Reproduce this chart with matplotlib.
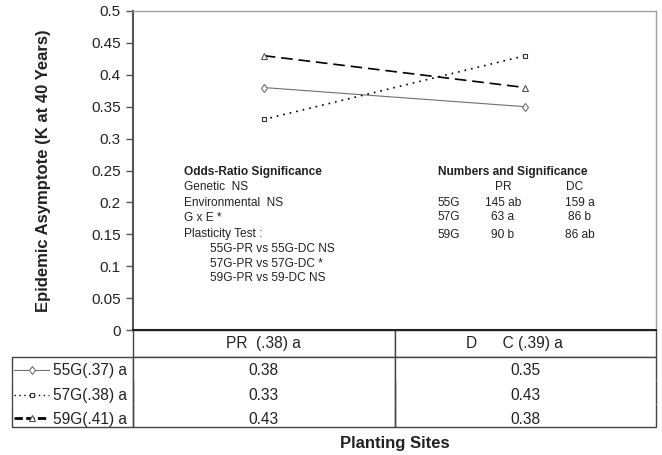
import matplotlib
matplotlib.use("Agg")
import matplotlib.pyplot as plt
from matplotlib.lines import Line2D
import matplotlib.transforms as mtransforms

plt.rcParams['font.family'] = ['Liberation Sans', 'DejaVu Sans']

# ---- data ----
sites = ['PR', 'DC']
site_headers = ['PR  (.38) a', 'D      C (.39) a     ']
genotypes = ['55G', '57G', '59G']
genotype_labels = ['55G(.37) a', '57G(.38) a', '59G(.41) a']
k_55G = [0.38, 0.35]
k_57G = [0.33, 0.43]
k_59G = [0.43, 0.38]
series = [k_55G, k_57G, k_59G]
yticks = [0, 0.05, 0.1, 0.15, 0.2, 0.25, 0.3, 0.35, 0.4, 0.45, 0.5]
ytick_labels = ['0', '0.05', '0.1', '0.15', '0.2', '0.25', '0.3', '0.35', '0.4', '0.45', '0.5']
counts_pr = ['145 ab', '63 a', '90 b']
counts_dc = ['159 a', '86 b', '86 ab']
odds_lines = ['Genetic  NS', 'Environmental  NS', 'G x E *', 'Plasticity Test :']
plasticity_lines = ['55G-PR vs 55G-DC NS', '57G-PR vs 57G-DC *', '59G-PR vs 59-DC NS']

# ---- styles ----
styles = [
    dict(color='#707070', lw=0.8, ls='-', marker='d', ms=4.5, mfc='white', mec='#707070', mew=0.8),
    dict(color='black', lw=1.2, ls=(0, (1, 3)), marker='s', ms=3.5, mfc='white', mec='#333333', mew=0.8),
    dict(color='black', lw=1.2, ls=(0, (7, 3.5)), marker='^', ms=5, mfc='white', mec='#555555', mew=0.8),
]
legend_ls = ['-', (0, (1, 2.5)), (0, (3, 1.2))]
legend_lw = [0.8, 1.0, 2.0]

W, H = 662, 455
fig = plt.figure(figsize=(W / 100, H / 100), dpi=100)
L, R, T, B = 133, 656, 11, 330
ax = fig.add_axes([L / W, 1 - B / H, (R - L) / W, (B - T) / H])

def fx(px):
    return (px - L) / (R - L)

def fy(py):
    return (B - py) / (B - T)

xpos = [0.5, 1.5]
for vals, st in zip(series, styles):
    ax.plot(xpos, vals, **st)

ax.set_xlim(0, 2)
ax.set_ylim(0, 0.5)
ax.set_yticks(yticks)
ax.set_yticklabels(ytick_labels, fontsize=11, color='#222222')
ax.set_xticks([])
ax.tick_params(axis='y', direction='out', length=5, width=1, color='#555555', pad=4)
for s in ['top', 'right']:
    ax.spines[s].set_color('#a0a0a0')
    ax.spines[s].set_linewidth(1)
ax.spines['left'].set_color('#555555')
ax.spines['left'].set_linewidth(1.5)
ax.spines['bottom'].set_color('#222222')
ax.spines['bottom'].set_linewidth(1.5)

ax.set_ylabel('Epidemic Asymptote (K at 40 Years)', fontsize=12, fontweight='bold', color='#222222')
ax.yaxis.set_label_coords(fx(51), 0.5)

# ---- annotation blocks ----
fs = 8.6
tc = '#222222'
ax.text(fx(184), fy(172), 'Odds-Ratio Significance', transform=ax.transAxes,
        fontsize=fs, fontweight='bold', va='center', ha='left', color=tc)
for line, py in zip(odds_lines, [187, 203, 218, 234]):
    ax.text(fx(184), fy(py), line, transform=ax.transAxes, fontsize=fs,
            va='center', ha='left', color=tc)
for line, py in zip(plasticity_lines, [249, 264, 278]):
    ax.text(fx(210), fy(py), line, transform=ax.transAxes, fontsize=fs,
            va='center', ha='left', color=tc)

ax.text(fx(438), fy(172), 'Numbers and Significance', transform=ax.transAxes,
        fontsize=fs, fontweight='bold', va='center', ha='left', color=tc)
ax.text(fx(503), fy(187), sites[0], transform=ax.transAxes, fontsize=fs,
        va='center', ha='center', color=tc)
ax.text(fx(575), fy(187), sites[1], transform=ax.transAxes, fontsize=fs,
        va='center', ha='center', color=tc)
for g, cp, cd, py in zip(genotypes, counts_pr, counts_dc, [203, 217, 235]):
    ax.text(fx(438), fy(py), g, transform=ax.transAxes, fontsize=fs,
            va='center', ha='left', color=tc)
    ax.text(fx(503), fy(py), cp, transform=ax.transAxes, fontsize=fs,
            va='center', ha='center', color=tc)
    ax.text(fx(580), fy(py), cd, transform=ax.transAxes, fontsize=fs,
            va='center', ha='center', color=tc)

# ---- data table ----
cell_text = [[f'{v:.2f}' for v in vals] for vals in series]
tbl_left = 12
tbl_bottom = 427
n_rows = len(series)
tbl = ax.table(cellText=cell_text, rowLabels=genotype_labels, colLabels=site_headers,
               colWidths=[0.5, 0.5],
               cellLoc='center', rowLoc='right', colLoc='center',
               bbox=[0, fy(tbl_bottom), 1, fy(B) - fy(tbl_bottom)])
tbl._autoColumns = []
tbl.auto_set_font_size(False)
tbl.set_fontsize(11.2)
row_text_shift = [0, -1.3, -2.3, -2.8]  # points, nudges text within rows
for (r, c), cell in tbl.get_celld().items():
    cell.set_edgecolor('#444444')
    cell.set_linewidth(1.0)
    cell.get_text().set_color(tc)
    cell.get_text().set_transform(
        mtransforms.ScaledTranslation(0, row_text_shift[r] / 72, fig.dpi_scale_trans))
    if r == 0:
        cell.set_height(27)
        cell.visible_edges = 'closed'
    else:
        cell.set_height(23.3)
        edges = 'LR'
        if r == 1:
            edges += 'T'
        if r == n_rows:
            edges += 'B'
        cell.visible_edges = edges
    if c == -1:
        cell.set_width(fx(L) - fx(tbl_left))
        cell.PAD = 0.05

# legend samples inside row-label cells
row_centers = [370, 394.5, 418]
for st, py, lls, llw in zip(styles, row_centers, legend_ls, legend_lw):
    ln = Line2D([fx(14), fx(49)], [fy(py), fy(py)], transform=ax.transAxes,
                clip_on=False, color=st['color'], lw=llw, ls=lls)
    ax.add_line(ln)
    mk = Line2D([fx(32)], [fy(py)], transform=ax.transAxes, clip_on=False, ls='none',
                marker=st['marker'], ms=st['ms'], mfc='white', mec=st['mec'], mew=st['mew'])
    ax.add_line(mk)

fig.text((L + R) / 2 / W, 1 - 448 / H, 'Planting Sites', ha='center', va='baseline',
         fontsize=12, fontweight='bold', color=tc)

fig.savefig('out.png', dpi=100)
